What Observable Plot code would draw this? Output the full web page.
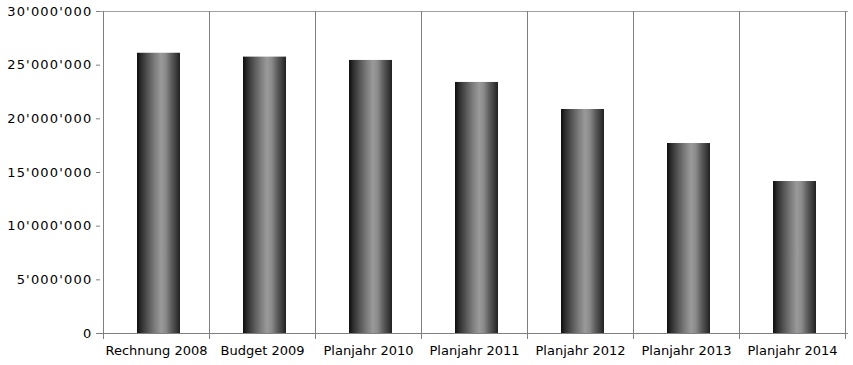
<!DOCTYPE html>
<html><head><meta charset="utf-8">
<script src="https://cdn.jsdelivr.net/npm/d3@7"></script>
<script src="https://cdn.jsdelivr.net/npm/@observablehq/plot@0.6"></script>
<style>
body{margin:0;background:#fff}
#chart svg{display:block}
#chart g[aria-label="y-axis tick label"] text{letter-spacing:1.2px}
</style>
</head><body><div id="chart"></div>
<script>
const categories = ["Rechnung 2008","Budget 2009","Planjahr 2010","Planjahr 2011","Planjahr 2012","Planjahr 2013","Planjahr 2014"];
const values = [26110000, 25750000, 25440000, 23390000, 20870000, 17700000, 14160000];
const yTicks = [0, 5e6, 10e6, 15e6, 20e6, 25e6, 30e6];
const yMax = 30e6;
const data = categories.map((c, i) => ({category: c, value: values[i]}));
const lastCat = categories[categories.length - 1];
const fmt = d3.formatLocale({thousands: "'", grouping: [3], decimal: ".", currency: ["", ""]}).format(",d");

const gradStops = [
  [0, "#0e0e0e"], [0.1, "#2e2e2e"], [0.25, "#555555"], [0.42, "#7e7e7e"],
  [0.56, "#9a9a9a"], [0.67, "#8a8a8a"], [0.8, "#5c5c5c"], [0.92, "#3a3a3a"], [1, "#202020"]
];
function defs() {
  const d = d3.create("svg:defs");
  const g = d.append("linearGradient").attr("id", "barGrad").attr("x1", 0).attr("x2", 1).attr("y1", 0).attr("y2", 0);
  for (const [o, c] of gradStops) g.append("stop").attr("offset", o).attr("stop-color", c);
  return d.node();
}

function make(step) {
  return Plot.plot({
    width: 853, height: 365, marginLeft: 100, marginRight: 5, marginTop: 11, marginBottom: 32,
    style: {fontFamily: "DejaVu Sans", fontSize: "13px", color: "#000", background: "#fff"},
    x: {domain: categories, padding: 0, axis: null},
    y: {domain: [0, yMax], axis: null},
    marks: [
      defs,
      Plot.ruleY([yMax], {stroke: "#a0a0a0"}),
      Plot.ruleX(categories, {x: d => d, y1: 0, y2: yMax, dx: -step / 2, stroke: "#7f7f7f"}),
      Plot.ruleX([lastCat], {x: d => d, y1: 0, y2: yMax, dx: step / 2, stroke: "#7f7f7f"}),
      Plot.barY(data, {x: "category", y: "value", fill: "url(#barGrad)", insetLeft: 34, insetRight: 29}),
      Plot.ruleY([0], {stroke: "#7f7f7f"}),
      Plot.axisY({ticks: yTicks, tickFormat: fmt, tickSize: 4, tickPadding: 4, stroke: "#7f7f7f", fill: "#000", label: null}),
      Plot.axisX({tickSize: 6, text: null, dx: -step / 2, stroke: "#7f7f7f", label: null}),
      Plot.axisX([lastCat], {tickSize: 6, text: null, dx: step / 2, stroke: "#7f7f7f", label: null}),
      Plot.axisX({tickSize: 0, tickPadding: 12, fill: "#000", label: null})
    ]
  });
}
const step = make(0).scale("x").step;
document.getElementById("chart").append(make(step));
</script>
</body></html>
